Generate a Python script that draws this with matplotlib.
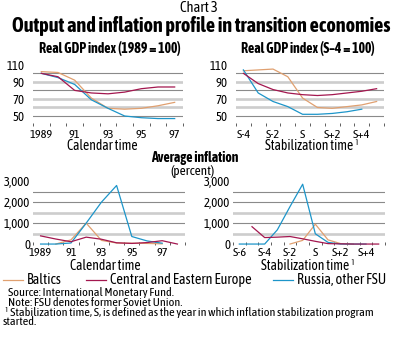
import numpy as np
import matplotlib
matplotlib.use("Agg")
import matplotlib.pyplot as plt

plt.rcParams['font.family'] = ['Asap Condensed', 'Archivo Narrow', 'DejaVu Sans']

# Real GDP index, calendar time (1989 = 100)
years = ['1989', '1990', '1991', '1992', '1993', '1994', '1995', '1996', '1997']
year_labels = ['1989', '', '91', '', '93', '', '95', '', '97']
gdp_cal_baltics = [102, 101, 92, 71, 59, 58, 59, 62, 66]
gdp_cal_cee = [100, 96, 80, 77, 76, 78, 82, 84, 84]
gdp_cal_russia = [100, 95, 87, 69, 59, 50, 48, 47, 47]

# Real GDP index, stabilization time (S-4 = 100)
stab = ['S-4', 'S-3', 'S-2', 'S-1', 'S', 'S+1', 'S+2', 'S+3', 'S+4', 'S+5']
stab_labels = ['S-4', '', 'S-2', '', 'S', '', 'S+2', '', 'S+4', '']
gdp_stab_baltics = [103, 104, 105, 96, 71, 60, 59, 61, 63, 67]
gdp_stab_cee = [100, 88, 81, 77, 75, 74, 75, 77, 79, 82]
gdp_stab_russia = [104, 77, 67, 61, 52, 52, 53, 55, 58, np.nan]

# Average inflation (percent), calendar time
infl_years = ['1989', '1990', '1991', '1992', '1993', '1994', '1995', '1996', '1997', '1998']
infl_cal_baltics = [np.nan, 0, 200, 1000, 175, 50, 40, 30, 10, np.nan]
infl_cal_cee = [390, 240, 110, 330, 230, 60, 30, 70, 160, 0]
infl_cal_russia = [0, 0, 50, 1000, 2000, 2800, 360, 150, 40, np.nan]

# Average inflation (percent), stabilization time
infl_stab = ['S-6', 'S-5', 'S-4', 'S-3', 'S-2', 'S-1', 'S', 'S+1', 'S+2', 'S+3', 'S+4', 'S+5']
infl_stab_labels = ['S-6', '', 'S-4', '', 'S-2', '', 'S', '', 'S+2', '', 'S+4', '']
infl_stab_baltics = [np.nan, np.nan, np.nan, np.nan, 0, 175, 950, 200, 20, 0, np.nan, np.nan]
infl_stab_cee = [np.nan, 830, 310, 330, 360, 250, 130, 20, 10, 0, 0, 0]
infl_stab_russia = [0, 0, 0, 680, 1790, 2860, 490, 80, 0, 0, 0, np.nan]

C_BALT = '#e0a070'
C_CEE = '#a3174f'
C_RUS = '#1d95c9'
DARK = '#8a8a8a'
LIGHT = '#cdcdcd'

W, H = 402, 340
fig = plt.figure(figsize=(W / 100, H / 100), dpi=100)


def box(x0, y0, x1, y1):
    # pixel box (top-left origin) -> figure fraction
    return [x0 / W, 1 - y1 / H, (x1 - x0) / W, (y1 - y0) / H]


def panel(rect, labels, tick_labels, series, ylim, dark, light, yticks, yfmt,
          ypad, xpad, tickdir):
    ax = fig.add_axes(rect)
    n = len(labels)
    x = np.arange(n)
    for yv in light:
        ax.axhline(yv, color=LIGHT, lw=1.9, zorder=1)
    for yv in dark:
        ax.axhline(yv, color=DARK, lw=0.8, zorder=1)
    for vals, c in series:
        ax.plot(x, vals, color=c, lw=0.9, zorder=3)
    ax.set_xlim(-0.5, n - 0.5)
    ax.set_ylim(*ylim)
    ax.set_xticks(np.arange(n + 1) - 0.5)
    ax.set_xticklabels([])
    ax.set_xticks(x, minor=True)
    ax.set_xticklabels(tick_labels, minor=True)
    ax.tick_params(axis='x', which='major', direction=tickdir, length=2.5,
                   width=0.6, color='#444444')
    ax.tick_params(axis='x', which='minor', length=0, pad=xpad, labelsize=8.8)
    ax.set_yticks(yticks)
    ax.set_yticklabels([yfmt.format(v) for v in yticks])
    ax.tick_params(axis='y', length=0, pad=ypad, labelsize=9.2)
    for s in ax.spines.values():
        s.set_visible(False)
    ax.patch.set_alpha(0)
    return ax


gdp_kw = dict(ylim=(41.8, 110), dark=[50, 80, 100], light=[60, 70, 90],
              yticks=[50, 70, 90, 110], yfmt='{:d}', ypad=6, xpad=4.5,
              tickdir='out')
panel(box(33, 64.8, 183, 123), years, year_labels,
      [(gdp_cal_baltics, C_BALT), (gdp_cal_russia, C_RUS), (gdp_cal_cee, C_CEE)],
      **gdp_kw)
panel(box(236, 64.8, 384, 123), stab, stab_labels,
      [(gdp_stab_baltics, C_BALT), (gdp_stab_russia, C_RUS), (gdp_stab_cee, C_CEE)],
      **gdp_kw)

infl_kw = dict(ylim=(-60, 3000), dark=[1000, 2000, 2500], light=[500, 1500],
               yticks=[0, 1000, 2000, 3000], yfmt='{:,d}', ypad=2, xpad=1.5,
               tickdir='in')
panel(box(33, 181.3, 185, 245.3), infl_years[:9] + [''], year_labels + [''],
      [(infl_cal_baltics, C_BALT), (infl_cal_russia, C_RUS), (infl_cal_cee, C_CEE)],
      **infl_kw)
panel(box(233, 181.3, 385, 245.3), infl_stab, infl_stab_labels,
      [(infl_stab_baltics, C_BALT), (infl_stab_russia, C_RUS), (infl_stab_cee, C_CEE)],
      **infl_kw)


def txt(x, y, s, size, weight='normal', ha='center'):
    fig.text(x / W, 1 - y / H, s, fontsize=size, fontweight=weight,
             ha=ha, va='center')


txt(199, 8, 'Chart 3', 10.5)
txt(201, 26, 'Output and inflation profile in transition economies', 14.5, 'bold')
txt(110, 48, 'Real GDP index (1989 = 100)', 10, 'bold')
txt(308, 48, 'Real GDP index (S\u20134 = 100)', 10, 'bold')
txt(102, 146, 'Calendar time', 9.8)
txt(312, 146, 'Stabilization time \u00b9', 9.8)
txt(195, 158, 'Average inflation', 10, 'bold')
txt(193, 171, '(percent)', 9.5)
txt(105, 266, 'Calendar time', 9.8)
txt(308, 266, 'Stabilization time \u00b9', 9.8)

# legend row
legend_items = [('Baltics', C_BALT, 3), ('Central and Eastern Europe', C_CEE, 86),
                ('Russia, other FSU', C_RUS, 273)]
for name, c, x0 in legend_items:
    fig.add_artist(plt.Line2D([x0 / W, (x0 + 20) / W], [1 - 280 / H] * 2,
                              color=c, lw=0.9))
    txt(x0 + 24, 280, name, 10.3, ha='left')

txt(8, 293, 'Source: International Monetary Fund.', 8.8, ha='left')
txt(8, 302.5, 'Note: FSU denotes former Soviet Union.', 8.8, ha='left')
txt(5, 312, '\u00b9 Stabilization time, S, is defined as the year in which inflation stabilization program', 8.8, ha='left')
txt(3, 321.5, 'started.', 8.8, ha='left')

fig.savefig('out.png', dpi=100)
